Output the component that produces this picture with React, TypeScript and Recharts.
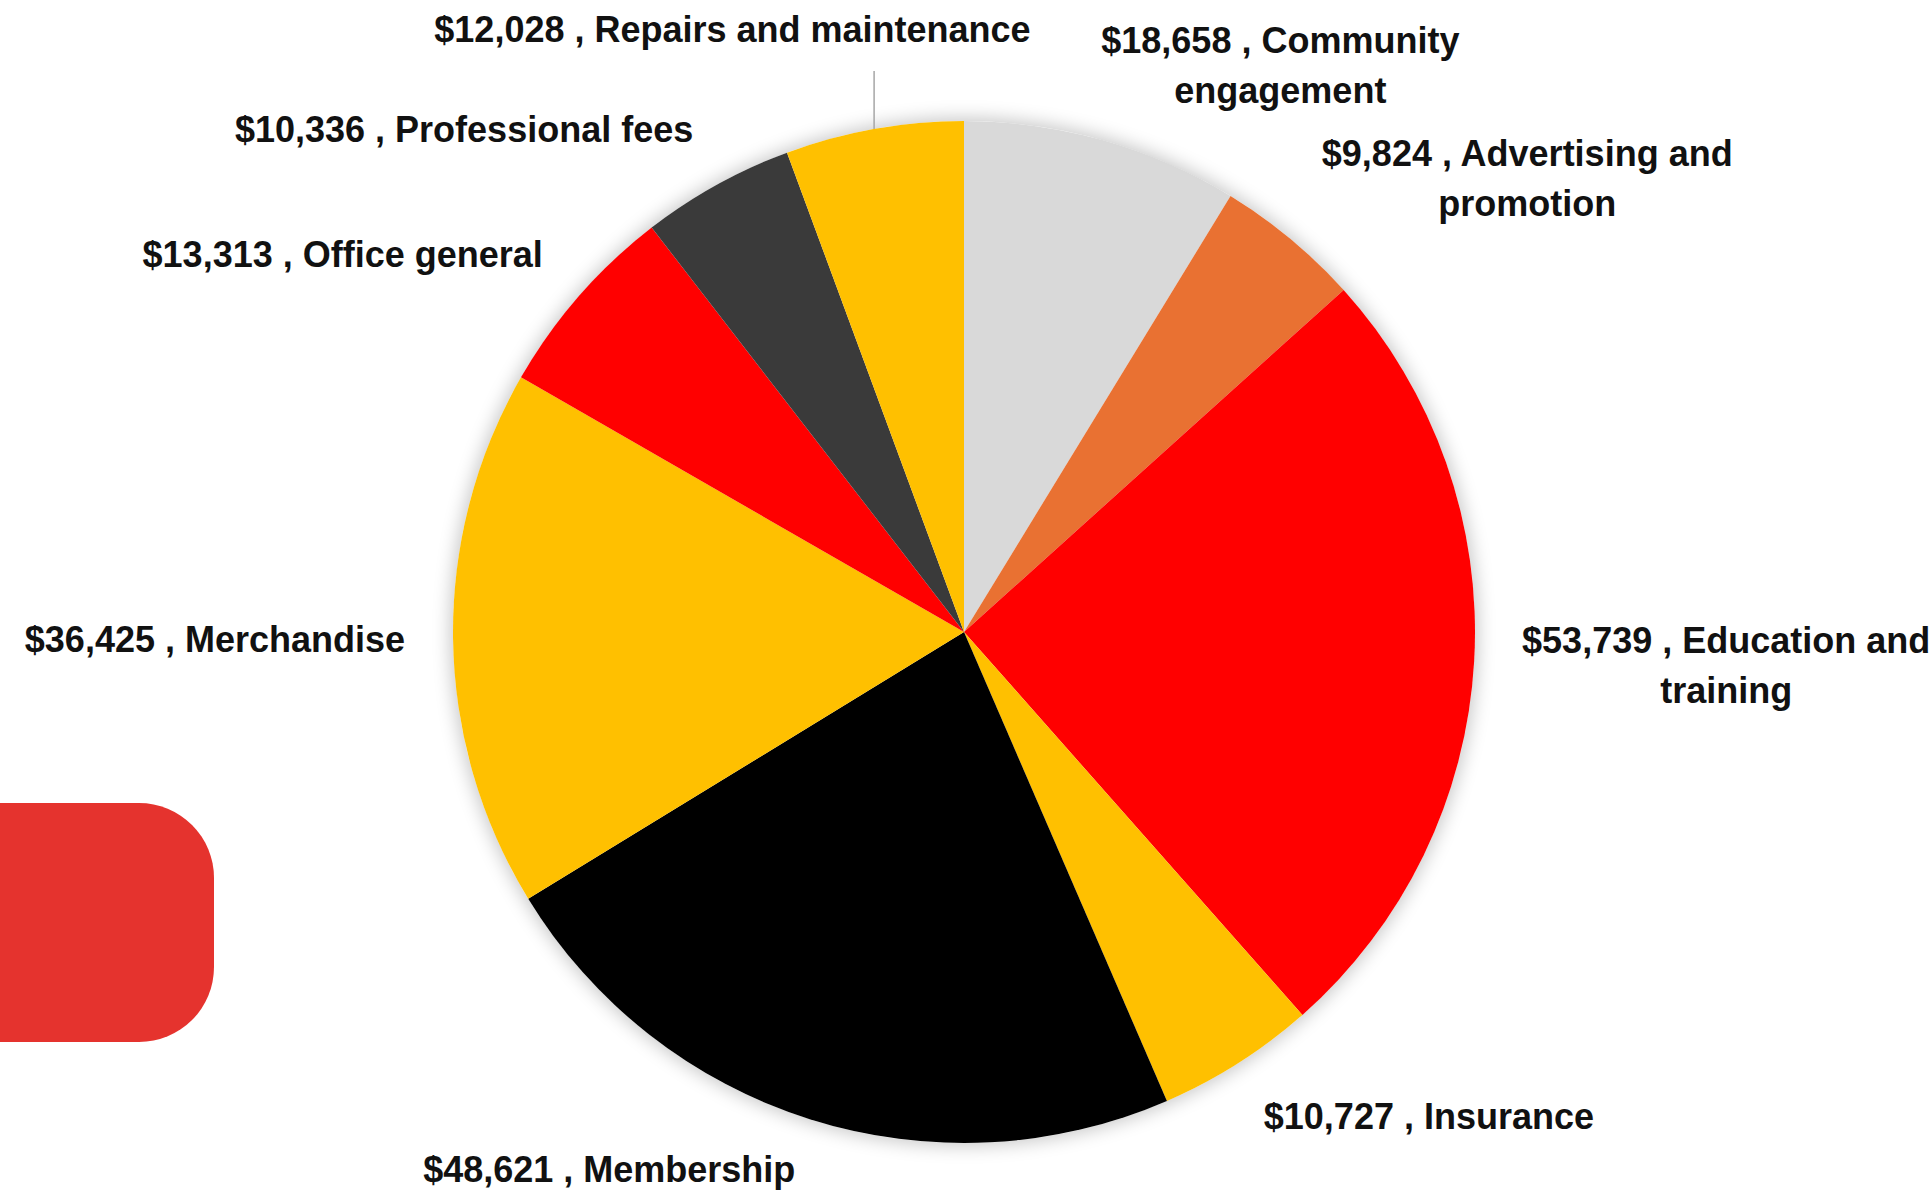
import React from 'react';
import { PieChart, Pie, Cell } from 'recharts';

// spending by category, clockwise from 12 o'clock
const categories = [
  'Community engagement',
  'Advertising and promotion',
  'Education and training',
  'Insurance',
  'Membership',
  'Merchandise',
  'Office general',
  'Professional fees',
  'Repairs and maintenance',
];
const amounts = [18658, 9824, 53739, 10727, 48621, 36425, 13313, 10336, 12028];

const sliceColors = [
  '#D9D9D9', '#E97132', '#FF0000', '#FFC000', '#000000',
  '#FFC000', '#FF0000', '#3A3A3A', '#FFC000',
];

// labels that Excel pulled away from the pie with a leader line
const leaderLabels = ['Repairs and maintenance'];

const W = 1932;
const H = 1194;
const CX = 964;
const CY = 632;
const R = 511;
const FONT_SIZE = 36;
const FONT_FAMILY = '"Liberation Sans", Arial, sans-serif';
const LINE_H = 50;
const GAP = 48;

if (typeof document !== 'undefined') document.body.style.margin = '0';

const data = categories.map((name, i) => ({ name, value: amounts[i] }));

let ctx: CanvasRenderingContext2D | null = null;
const measure = (s: string) => {
  if (!ctx) {
    ctx = document.createElement('canvas').getContext('2d');
  }
  if (!ctx) return s.length * FONT_SIZE * 0.55;
  ctx.font = `bold ${FONT_SIZE}px ${FONT_FAMILY}`;
  return ctx.measureText(s).width;
};

const wrap = (text: string, maxW: number) => {
  const words = text.split(' ');
  const lines: string[] = [];
  let cur = '';
  words.forEach(w => {
    const next = cur ? `${cur} ${w}` : w;
    if (cur && measure(next) > maxW) {
      lines.push(cur);
      cur = w;
    } else {
      cur = next;
    }
  });
  if (cur) lines.push(cur);
  return lines;
};

const renderLabel = (props: any) => {
  const { cx, cy, midAngle, outerRadius, name, value } = props;
  const theta = ((90 - midAngle) * Math.PI) / 180; // clockwise from top
  const sin = Math.sin(theta);
  const cos = Math.cos(theta);
  const text = `$${Number(value).toLocaleString('en-US')} , ${name}`;
  const lines = wrap(text, sin > 0 ? 430 : 640);
  const w = Math.max(...lines.map(measure));
  const h = lines.length * LINE_H;

  let centerX: number;
  let centerY: number;
  let leader: React.ReactNode = null;

  if (leaderLabels.includes(name)) {
    const px = cx + outerRadius * sin;
    const py = cy - outerRadius * cos;
    const ey = py - 58;
    leader = <line x1={px} y1={py} x2={px} y2={ey} stroke="#A6A6A6" strokeWidth={1.5} />;
    centerX = px + (w / 2) * Math.max(-1, Math.min(1, sin * 2.7));
    centerY = ey - 16 - h / 2;
  } else {
    const s = Math.max(-1, Math.min(1, sin * 3.4));
    const ax = cx + (outerRadius + GAP) * sin;
    const ay = cy - (outerRadius + GAP) * cos;
    centerX = ax + (w / 2) * s;
    centerY = ay - (h / 2) * cos * 0.6;
  }
  centerX = Math.max(w / 2, Math.min(W - w / 2, centerX));
  centerY = Math.max(h / 2, Math.min(H - h / 2, centerY));

  return (
    <g>
      {leader}
      <text
        x={centerX}
        y={centerY}
        textAnchor="middle"
        fontFamily={FONT_FAMILY}
        fontSize={FONT_SIZE}
        fontWeight="bold"
        fill="#111111"
      >
        {lines.map((ln, i) => (
          <tspan
            key={i}
            x={centerX}
            y={centerY + (i - (lines.length - 1) / 2) * LINE_H}
            dominantBaseline="central"
          >
            {ln}
          </tspan>
        ))}
      </text>
    </g>
  );
};

export default function App() {
  return (
    <div style={{ position: 'relative', width: W, height: H, background: '#fff', overflow: 'hidden' }}>
      {/* decorative tab at the left edge */}
      <div
        style={{
          position: 'absolute',
          left: 0,
          top: 803,
          width: 214,
          height: 239,
          background: '#E5332E',
          borderRadius: '0 75px 75px 0',
        }}
      />
      {/* soft shadow under the pie */}
      <div
        style={{
          position: 'absolute',
          left: CX - R,
          top: CY - R,
          width: R * 2,
          height: R * 2,
          borderRadius: '50%',
          boxShadow: '0 0 18px 3px rgba(0,0,0,0.22)',
        }}
      />
      <div style={{ position: 'absolute', left: 0, top: 0 }}>
        <PieChart width={W} height={H} margin={{ top: 0, right: 0, bottom: 0, left: 0 }}>
          <Pie
            data={data}
            dataKey="value"
            nameKey="name"
            cx={CX}
            cy={CY}
            outerRadius={R}
            startAngle={90}
            endAngle={-270}
            stroke="none"
            isAnimationActive={false}
            labelLine={false}
            label={renderLabel}
          >
            {data.map((d, i) => (
              <Cell key={d.name} fill={sliceColors[i]} />
            ))}
          </Pie>
        </PieChart>
      </div>
    </div>
  );
}
